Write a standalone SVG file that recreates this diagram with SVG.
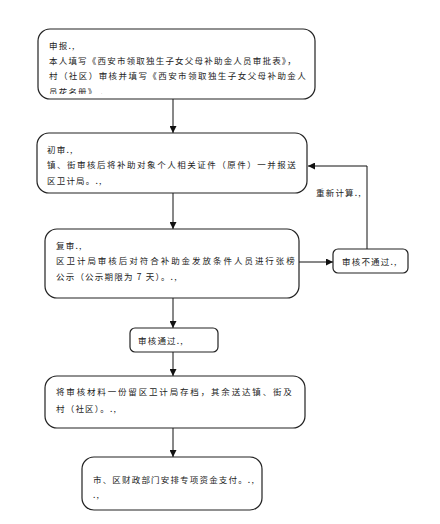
<svg xmlns="http://www.w3.org/2000/svg" width="440" height="524" viewBox="0 0 440 524">
<defs>
<style>
.box{fill:#fff;stroke:#222;stroke-width:1.2}
.t{font-family:"Noto Sans CJK SC","Noto Sans",sans-serif;font-size:8.5px;fill:#222;letter-spacing:1.2px}
.c{stroke:#111;stroke-width:1;fill:none}
</style>
<marker id="ah" viewBox="0 0 10 10" refX="10" refY="5" markerWidth="7" markerHeight="7" orient="auto" markerUnits="userSpaceOnUse"><path d="M0,0L10,5L0,10z" fill="#111"/></marker>
<clipPath id="cl1"><rect x="38" y="29" width="277" height="65"/></clipPath>
</defs>
<rect width="440" height="524" fill="#fff"/>
<g id="connectors">
<line class="c" x1="173" y1="99" x2="173" y2="133" marker-end="url(#ah)"/>
<line class="c" x1="173" y1="193" x2="173" y2="229" marker-end="url(#ah)"/>
<line class="c" x1="299" y1="262" x2="333" y2="262" marker-end="url(#ah)"/>
<polyline class="c" points="367,249 367,166 308,166" marker-end="url(#ah)"/>
<line class="c" x1="173" y1="298" x2="173" y2="328" marker-end="url(#ah)"/>
<line class="c" x1="173" y1="352" x2="173" y2="376" marker-end="url(#ah)"/>
<line class="c" x1="173" y1="428" x2="173" y2="457" marker-end="url(#ah)"/>
<text class="t" x="316" y="196">重新计算.,</text>
</g>
<g id="n1">
<rect class="box" x="38" y="29" width="277" height="70" rx="12"/>
<g clip-path="url(#cl1)">
<text class="t" x="49" y="49">申报.,</text>
<text class="t" x="49" y="64" textLength="248">本人填写《西安市领取独生子女父母补助金人员审批表》，</text>
<text class="t" x="49" y="79" textLength="258">村（社区）审核并填写《西安市领取独生子女父母补助金人</text>
<text class="t" x="49" y="95">员花名册》 .</text>
</g>
</g>
<g id="n2">
<rect class="box" x="37" y="133" width="270" height="60" rx="12"/>
<text class="t" x="47" y="153">初审.,</text>
<text class="t" x="47" y="168" textLength="250">镇、街审核后将补助对象个人相关证件（原件）一并报送</text>
<text class="t" x="47" y="184">区卫计局。.,</text>
</g>
<g id="n3">
<rect class="box" x="45" y="229" width="254" height="69" rx="12"/>
<text class="t" x="56" y="249">复审.,</text>
<text class="t" x="56" y="264" textLength="240">区卫计局审核后对符合补助金发放条件人员进行张榜</text>
<text class="t" x="56" y="280">公示（公示期限为 7 天）。.,</text>
</g>
<g id="n4">
<rect class="box" x="333" y="249" width="75" height="24" rx="5"/>
<text class="t" x="342" y="265">审核不通过.,</text>
</g>
<g id="n5">
<rect class="box" x="130" y="328" width="88" height="24" rx="5"/>
<text class="t" x="138" y="344">审核通过.,</text>
</g>
<g id="n6">
<rect class="box" x="45" y="376" width="260" height="52" rx="12"/>
<text class="t" x="56" y="395" textLength="237">将审核材料一份留区卫计局存档，其余送达镇、街及</text>
<text class="t" x="56" y="412">村（社区）。.,</text>
</g>
<g id="n7">
<rect class="box" x="82" y="457" width="180" height="53" rx="12"/>
<text class="t" x="93" y="483" textLength="162">市、区财政部门安排专项资金支付。.,</text>
<text class="t" x="93" y="498">.,</text>
</g>
</svg>
